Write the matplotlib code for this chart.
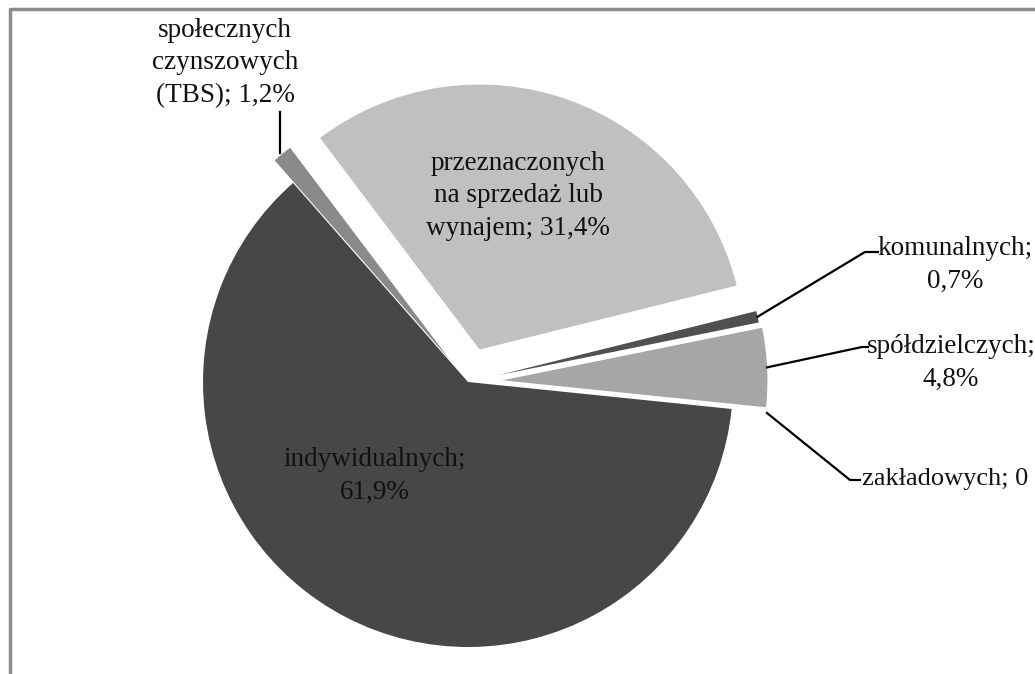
import matplotlib
matplotlib.use("Agg")
import matplotlib.pyplot as plt
import numpy as np

categories = ["przeznaczonych\nna sprzedaż lub\nwynajem", "komunalnych", "spółdzielczych",
              "zakładowych", "indywidualnych", "społecznych\nczynszowych\n(TBS)"]
values = [31.4, 0.7, 4.8, 0.0, 61.9, 1.2]
value_labels = ["31,4%", "0,7%", "4,8%", "0", "61,9%", "1,2%"]
colors = ["#c0c0c0", "#505050", "#a6a6a6", "#7a7a7a", "#474747", "#8a8a8a"]
explode_frac = [0.13, 0.12, 0.13, 0.0, 0.0, 0.11]

W, H = 1035, 674
fig = plt.figure(figsize=(W / 100, H / 100), dpi=100)
ax = fig.add_axes([0, 0, 1, 1])

def Y(y):
    return H - y

cx, cy, R = 468, Y(382), 265
explode = [e * R for e in explode_frac]
wedges, _ = ax.pie(values, colors=colors, explode=explode, startangle=127,
                   counterclock=False, radius=R, center=(cx, cy),
                   wedgeprops=dict(linewidth=0), frame=True)
ax.set_xlim(0, W)
ax.set_ylim(0, H)
ax.set_aspect("equal")
ax.axis("off")

# frame border
ax.plot([10, 10, W + 5], [-5, Y(9), Y(9)], color="#8c8c8c", lw=2.5, clip_on=False)

font = dict(family="Liberation Serif", fontsize=19.5, color="#111111")
LS = 1.38

def outer_point(i):
    w = wedges[i]
    ang = np.deg2rad((w.theta1 + w.theta2) / 2)
    c = w.center
    return c[0] + w.r * np.cos(ang), c[1] + w.r * np.sin(ang)

# inside labels
ax.text(518, Y(196), categories[0] + "; " + value_labels[0], ha="center", va="center",
        linespacing=LS, **font)
ax.text(375, Y(476), categories[4] + ";\n" + value_labels[4], ha="center", va="center",
        linespacing=LS, **font)

# TBS
ax.plot([280, 280], [Y(153), Y(112)], color="black", lw=1.6)
ax.text(225, Y(63), categories[5] + "; " + value_labels[5], ha="center", va="center",
        linespacing=LS, **font)

# komunalnych
x0, y0 = outer_point(1)
ax.plot([x0, 865, 878], [y0, Y(252), Y(252)], color="black", lw=1.6)
ax.text(955, Y(265), categories[1] + ";\n" + value_labels[1], ha="center", va="center",
        linespacing=LS, **font)

# spółdzielczych
x0, y0 = outer_point(2)
ax.plot([x0, 862, 868], [y0, Y(347), Y(347)], color="black", lw=1.6)
ax.text(951, Y(363), categories[2] + ";\n" + value_labels[2], ha="center", va="center",
        linespacing=LS, **font)

# zakładowych
ax.plot([767, 850, 860], [Y(413), Y(480), Y(480)], color="black", lw=1.6)
ax.text(862, Y(479), categories[3] + "; " + value_labels[3], ha="left", va="center",
        family="Liberation Serif", fontsize=19, color="#111111")

fig.savefig("out.png", dpi=100)
